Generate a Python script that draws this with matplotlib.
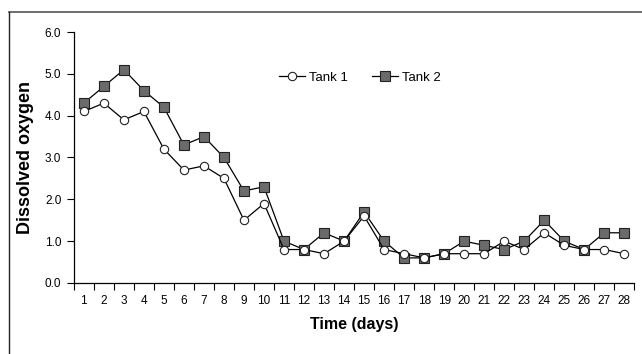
import matplotlib
matplotlib.use('Agg')
import matplotlib.pyplot as plt
from matplotlib.lines import Line2D

plt.rcParams['font.family'] = ['Liberation Sans', 'DejaVu Sans']

# dissolved oxygen per day
days = list(range(1, 29))
tank1 = [4.1, 4.3, 3.9, 4.1, 3.2, 2.7, 2.8, 2.5, 1.5, 1.9, 0.8, 0.8, 0.7, 1.0,
         1.6, 0.8, 0.7, 0.6, 0.7, 0.7, 0.7, 1.0, 0.8, 1.2, 0.9, 0.8, 0.8, 0.7]
tank2 = [4.3, 4.7, 5.1, 4.6, 4.2, 3.3, 3.5, 3.0, 2.2, 2.3, 1.0, 0.8, 1.2, 1.0,
         1.7, 1.0, 0.6, 0.6, 0.7, 1.0, 0.9, 0.8, 1.0, 1.5, 1.0, 0.8, 1.2, 1.2]
yticks = [0.0, 1.0, 2.0, 3.0, 4.0, 5.0, 6.0]

fig = plt.figure(figsize=(6.42, 3.54), dpi=100)
ax = fig.add_axes([0.115, 0.2006, 0.873, 0.709])

ax.plot(days, tank2, color='black', lw=0.9, marker='s', markersize=7,
        markerfacecolor='#6b6b6b', markeredgecolor='#222222', markeredgewidth=0.8,
        label='Tank 2', zorder=2)
ax.plot(days, tank1, color='black', lw=0.9, marker='o', markersize=6,
        markerfacecolor='white', markeredgecolor='#222222', markeredgewidth=0.8,
        label='Tank 1', zorder=3)

ax.set_xlim(0.5, 28.5)
ax.set_ylim(0, 6)
ax.set_xticks(days)
ax.set_xticklabels([str(d) for d in days], fontsize=8.5)
ax.set_xticks([d + 0.5 for d in range(0, 29)], minor=True)
ax.tick_params(axis='x', which='major', length=0, pad=9)
ax.tick_params(axis='x', which='minor', length=5, width=0.8, direction='out')
ax.set_yticks(yticks)
ax.set_yticklabels(['%.1f' % v for v in yticks], fontsize=8.5)
ax.tick_params(axis='y', length=5, width=0.8, direction='out', pad=4)

for s in ['top', 'right']:
    ax.spines[s].set_visible(False)
for s in ['left', 'bottom']:
    ax.spines[s].set_linewidth(0.9)

ax.set_xlabel('Time (days)', fontsize=11.5, fontweight='bold', labelpad=7)
ax.set_ylabel('Dissolved oxygen', fontsize=13, fontweight='bold', labelpad=8)

handles, labels = ax.get_legend_handles_labels()
leg = ax.legend(handles[::-1], labels[::-1], loc='upper left', bbox_to_anchor=(0.345, 0.89),
                ncol=2, frameon=False, fontsize=9.5, handlelength=2.0,
                columnspacing=1.8, handletextpad=0.3)

# outer frame (top and left)
fig.add_artist(Line2D([0.014, 1.0], [0.966, 0.966], color='#555555', lw=1.2,
                      transform=fig.transFigure))
fig.add_artist(Line2D([0.014, 0.014], [0.0, 0.966], color='#222222', lw=1.0,
                      transform=fig.transFigure))

fig.savefig('out.png', dpi=100)
